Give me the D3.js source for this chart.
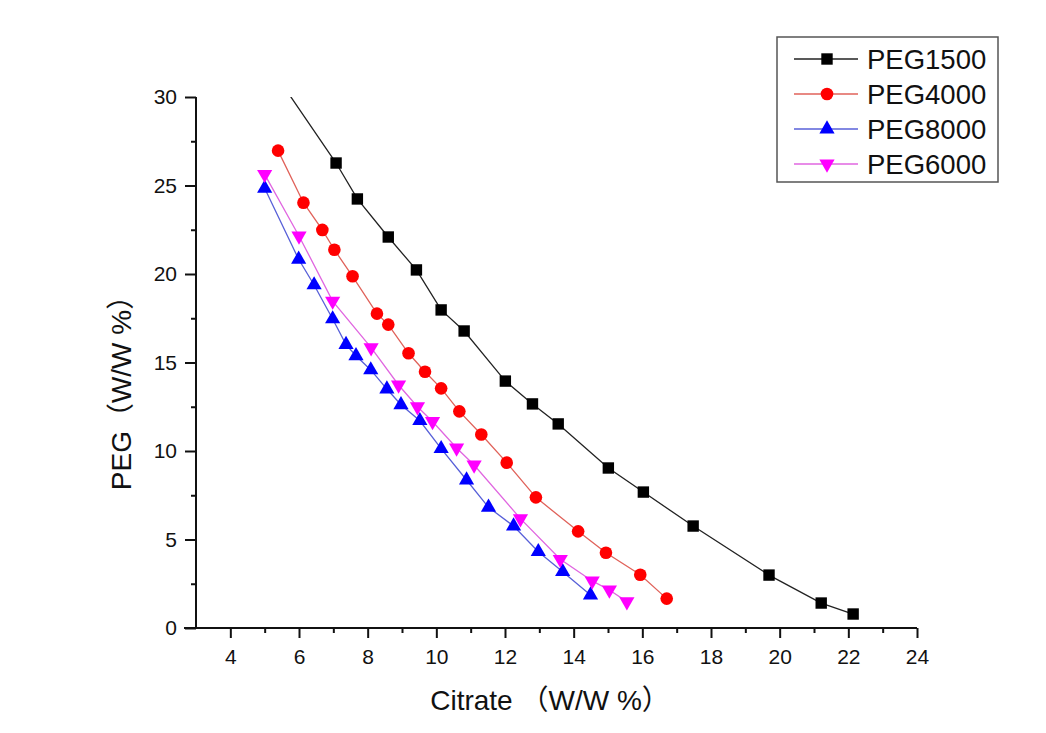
<!DOCTYPE html>
<html>
<head>
<meta charset="utf-8">
<script src="https://cdn.jsdelivr.net/npm/d3@7"></script>
<style>
  body { margin: 0; background: #fff; }
  text { font-family: "Liberation Sans", Arial, "Noto Sans CJK SC", sans-serif; fill: #111; }
</style>
</head>
<body>
<div id="chart"></div>
<script>
// Data (Citrate %, PEG %)
var peg1500X = [5.2, 7.08, 7.70, 8.60, 9.42, 10.14, 10.81, 12.01, 12.80, 13.55, 15.01, 16.03, 17.48, 19.69, 21.21, 22.14];
var peg1500Y = [31.6, 26.27, 24.24, 22.09, 20.23, 17.97, 16.78, 13.95, 12.66, 11.53, 9.04, 7.68, 5.76, 2.99, 1.41, 0.79];

var peg4000X = [5.39, 6.13, 6.68, 7.03, 7.56, 8.27, 8.60, 9.19, 9.67, 10.14, 10.67, 11.31, 12.05, 12.90, 14.13, 14.94, 15.94, 16.71];
var peg4000Y = [26.97, 24.03, 22.49, 21.37, 19.87, 17.76, 17.14, 15.52, 14.48, 13.54, 12.24, 10.93, 9.34, 7.38, 5.46, 4.25, 3.01, 1.66];

var peg8000X = [5.00, 5.99, 6.44, 6.98, 7.37, 7.66, 8.09, 8.56, 8.97, 9.52, 10.14, 10.88, 11.52, 12.25, 12.97, 13.68, 14.49];
var peg8000Y = [24.84, 20.83, 19.38, 17.46, 16.01, 15.38, 14.58, 13.50, 12.61, 11.71, 10.13, 8.36, 6.82, 5.76, 4.31, 3.18, 1.86];

var peg6000X = [5.00, 6.00, 6.98, 8.10, 8.90, 9.45, 9.89, 10.59, 11.10, 12.45, 13.61, 14.54, 15.04, 15.55];
var peg6000Y = [25.63, 22.15, 18.47, 15.84, 13.73, 12.50, 11.67, 10.17, 9.21, 6.18, 3.88, 2.66, 2.15, 1.49];

var seriesNames = ["PEG1500", "PEG4000", "PEG8000", "PEG6000"];
var xTicks = [4, 6, 8, 10, 12, 14, 16, 18, 20, 22, 24];
var yTicks = [0, 5, 10, 15, 20, 25, 30];

// Build series table
function zipXY(xs, ys) {
    return xs.map(function (d, i) { return { x: d, y: ys[i] }; });
}
var series = [
    { name: seriesNames[0], pts: zipXY(peg1500X, peg1500Y), line: "#222", fill: "#000", sym: d3.symbolSquare, size: 130, rot: 0 },
    { name: seriesNames[1], pts: zipXY(peg4000X, peg4000Y), line: "#e0625a", fill: "#ff0000", sym: d3.symbolCircle, size: 125, rot: 0 },
    { name: seriesNames[2], pts: zipXY(peg8000X, peg8000Y), line: "#5860d8", fill: "#0000ff", sym: d3.symbolTriangle, size: 100, rot: 0 },
    { name: seriesNames[3], pts: zipXY(peg6000X, peg6000Y), line: "#e066e0", fill: "#ff00ff", sym: d3.symbolTriangle, size: 100, rot: 180 }
];

var width = 1046, height = 733;
var svg = d3.select("#chart").append("svg")
    .attr("width", width)
    .attr("height", height);

svg.append("rect").attr("width", width).attr("height", height).attr("fill", "#fff");

// Scales
var x = d3.scaleLinear().domain([3, 24]).range([196, 917]);
var y = d3.scaleLinear().domain([0, 30]).range([628, 97]);

// Clip to plot area
svg.append("clipPath").attr("id", "plotClip")
    .append("rect")
    .attr("x", x(3)).attr("y", y(30))
    .attr("width", x(24) - x(3)).attr("height", y(0) - y(30));

// Minor ticks
svg.append("g")
    .attr("transform", "translate(0," + y(0) + ")")
    .call(d3.axisBottom(x).tickValues(d3.range(5, 24, 2)).tickSize(5).tickFormat(""))
    .call(function (g) { g.select(".domain").remove(); })
    .selectAll("line").attr("stroke", "#111").attr("stroke-width", 2);

svg.append("g")
    .attr("transform", "translate(" + x(3) + ",0)")
    .call(d3.axisLeft(y).tickValues([2.5, 7.5, 12.5, 17.5, 22.5, 27.5]).tickSize(5).tickFormat(""))
    .call(function (g) { g.select(".domain").remove(); })
    .selectAll("line").attr("stroke", "#111").attr("stroke-width", 2);

// X axis
var xAxis = svg.append("g")
    .attr("transform", "translate(0," + y(0) + ")")
    .call(d3.axisBottom(x).tickValues(xTicks).tickSizeInner(10).tickSizeOuter(0).tickPadding(11));
xAxis.select(".domain").attr("stroke", "#111").attr("stroke-width", 2)
    .attr("d", "M" + (x(3) - 12) + ",0H" + x(24));
xAxis.selectAll("line").attr("stroke", "#111").attr("stroke-width", 2);
xAxis.selectAll("text")
    .style("font-size", "21px")
    .style("font-family", "Liberation Sans, Arial, sans-serif")
    .attr("fill", "#111");

// Y axis
var yAxis = svg.append("g")
    .attr("transform", "translate(" + x(3) + ",0)")
    .call(d3.axisLeft(y).tickValues(yTicks).tickSizeInner(11).tickSizeOuter(0).tickPadding(8));
yAxis.select(".domain").attr("stroke", "#111").attr("stroke-width", 2)
    .attr("d", "M0," + y(30) + "V" + y(0));
yAxis.selectAll("line").attr("stroke", "#111").attr("stroke-width", 2);
yAxis.selectAll("text")
    .style("font-size", "21px")
    .style("font-family", "Liberation Sans, Arial, sans-serif")
    .attr("fill", "#111");

// Lines and markers
var line = d3.line()
    .x(function (d) { return x(d.x); })
    .y(function (d) { return y(d.y); });

var plot = svg.append("g").attr("clip-path", "url(#plotClip)");

series.forEach(function (s) {
    plot.append("path")
        .datum(s.pts)
        .attr("d", line)
        .attr("fill", "none")
        .attr("stroke", s.line)
        .attr("stroke-width", 1.3);
});

series.forEach(function (s) {
    plot.selectAll(".m-" + s.name)
        .data(s.pts)
        .enter().append("path")
        .attr("class", "m-" + s.name)
        .attr("d", d3.symbol().type(s.sym).size(s.size))
        .attr("transform", function (d) {
            return "translate(" + x(d.x) + "," + y(d.y) + ") rotate(" + s.rot + ")";
        })
        .attr("fill", s.fill);
});

// Axis titles
svg.append("text")
    .attr("x", 550)
    .attr("y", 710)
    .attr("text-anchor", "middle")
    .style("font-size", "28px")
    .text("Citrate （W/W %）");

svg.append("text")
    .attr("transform", "translate(131,386) rotate(-90)")
    .attr("text-anchor", "middle")
    .style("font-size", "28px")
    .text("PEG（W/W %）");

// Legend
var legend = svg.append("g");
legend.append("rect")
    .attr("x", 777).attr("y", 37)
    .attr("width", 221).attr("height", 145)
    .attr("fill", "#fff")
    .attr("stroke", "#555")
    .attr("stroke-width", 1.5);

series.forEach(function (s, i) {
    var ly = 59 + i * 35;
    legend.append("line")
        .attr("x1", 794).attr("x2", 858)
        .attr("y1", ly).attr("y2", ly)
        .attr("stroke", s.line)
        .attr("stroke-width", 1.3);
    legend.append("path")
        .attr("d", d3.symbol().type(s.sym).size(s.size))
        .attr("transform", "translate(827," + ly + ") rotate(" + s.rot + ")")
        .attr("fill", s.fill);
    legend.append("text")
        .attr("x", 867)
        .attr("y", ly + 10)
        .style("font-size", "27.5px")
        .text(s.name);
});
</script>
</body>
</html>
